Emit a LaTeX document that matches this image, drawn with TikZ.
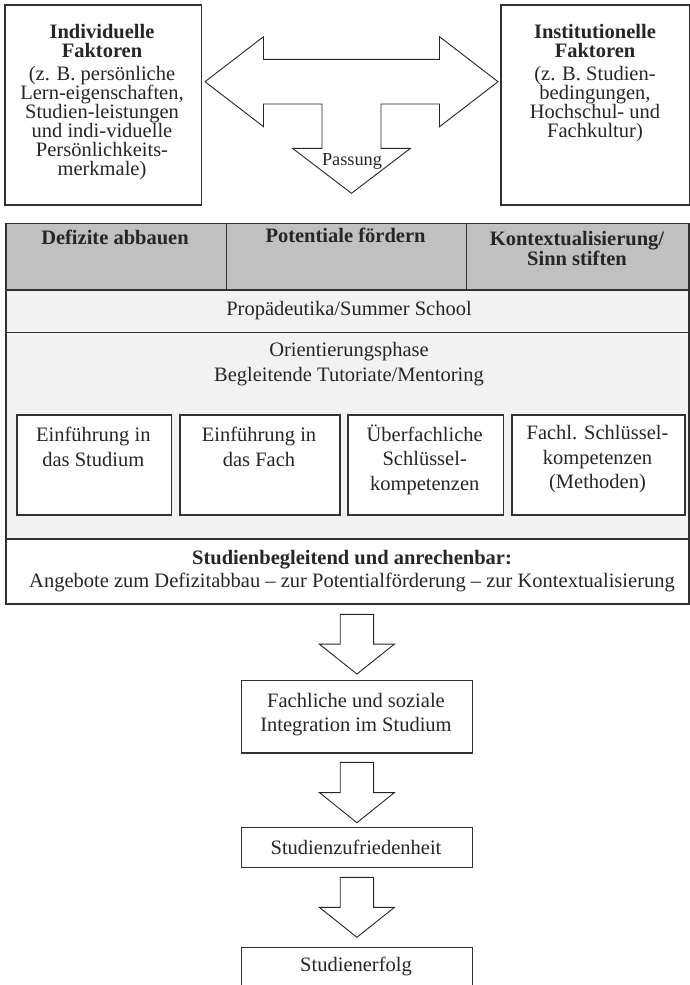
\documentclass[tikz,border=0pt]{standalone}
\usepackage{fontspec}
\setmainfont{Liberation Serif}
\usetikzlibrary{calc}
\definecolor{linec}{RGB}{50,50,50}
\definecolor{hdrfill}{RGB}{192,192,192}
\definecolor{rowfill}{RGB}{242,242,242}
\newcommand{\blkdown}[2]{%
  \draw[blockarrow] let \p1=(#1), \p2=(#2) in
    (\x1-16.7pt,\y1) -- (\x1+16.7pt,\y1) -- (\x1+16.7pt,{0.5*(\y1+\y2)})
    -- (\x1+37.5pt,{0.5*(\y1+\y2)}) -- (\x1,\y2) -- (\x1-37.5pt,{0.5*(\y1+\y2)})
    -- (\x1-16.7pt,{0.5*(\y1+\y2)}) -- cycle;}
\begin{document}
\begin{tikzpicture}[x=1pt,y=-1pt,
  font=\fontsize{20.5}{24.5}\selectfont,
  frame/.style={draw=linec, line width=1.6pt, inner sep=0pt, anchor=north west},
  flowbox/.style={draw=linec, line width=1.4pt, inner sep=0pt, anchor=north west, fill=white},
  txt/.style={inner sep=0pt, align=center, text=black!85},
  toptxt/.style={txt, font=\fontsize{20.5}{19}\selectfont},
  blockarrow/.style={draw=black!85, line width=0.9pt, fill=white, line join=miter}]
\useasboundingbox (0,0) rectangle (690,985);

% top factor boxes
\node[frame, minimum width=196.7pt, minimum height=200pt] (ind) at (4,4) {};
\node[frame, minimum width=189pt, minimum height=200pt] (inst) at (500,4) {};
\node[toptxt] (indt) at (102,102) {\textbf{Individuelle}\\[0.7pt]\textbf{Faktoren}\\[4pt](z. B. persönliche\\Lern-eigenschaften,\\Studien-leistungen\\und indi-viduelle\\Persönlichkeits-\\merkmale)};
\node[toptxt] (instt) at (595,83) {\textbf{Institutionelle}\\[0.7pt]\textbf{Faktoren}\\[4pt](z. B. Studien-\\bedingungen,\\Hochschul- und\\Fachkultur)};

% T-shaped double arrow (Passung)
\draw[blockarrow] (205,81.7) -- (263.5,36.7) -- (263.5,59.3) -- (439.5,59.3) -- (439.5,36.7)
  -- (498,81.7) -- (439.5,126.7) -- (439.5,104) -- (381,104) -- (381,148.3) -- (410.5,148.3)
  -- (351.5,193.3) -- (292.5,148.3) -- (322,148.3) -- (322,104) -- (263.5,104) -- (263.5,126.7) -- cycle;
\node[txt, font=\fontsize{18.3}{20}\selectfont] (pass) at (352,161.5) {Passung};

% header row
\node[frame, fill=hdrfill, minimum width=220.5pt, minimum height=66.6pt] (h1) at (5,222.7) {};
\node[frame, fill=hdrfill, minimum width=240pt, minimum height=66.6pt] (h2) at (225.5,222.7) {};
\node[frame, fill=hdrfill, minimum width=222.5pt, minimum height=66.6pt] (h3) at (465.5,222.7) {};
\node[txt, font=\fontsize{20.5}{20}\selectfont\bfseries] (h1t) at (115,237) {Defizite abbauen};
\node[txt, font=\fontsize{20.5}{20}\selectfont\bfseries] (h2t) at (345.5,235.5) {Potentiale fördern};
\node[txt, font=\fontsize{20.5}{20}\selectfont\bfseries] (h3t) at (577,248.3) {Kontextualisierung/\\Sinn stiften};

% Propaedeutika row
\node[frame, fill=rowfill, minimum width=683pt, minimum height=42.4pt] (prop) at (5,289.3) {};
\node[txt] (propt) at (349,311) {Propädeutika/Summer School};

% Orientierungsphase block
\node[frame, fill=rowfill, minimum width=683pt, minimum height=206.6pt] (orient) at (5,331.7) {};
\node[txt, font=\fontsize{20.5}{25}\selectfont] (orientt) at (349,364) {Orientierungsphase\\Begleitende Tutoriate/Mentoring};

\node[frame, fill=white, minimum width=154.5pt, minimum height=100.3pt] (b1) at (16,414) {};
\node[frame, fill=white, minimum width=160pt, minimum height=100.3pt] (b2) at (179,414) {};
\node[frame, fill=white, minimum width=155.5pt, minimum height=100.3pt] (b3) at (347,414) {};
\node[frame, fill=white, minimum width=173pt, minimum height=100.3pt] (b4) at (511,414) {};
\node[txt] (b1t) at (93.3,447) {Einführung in\\das Studium};
\node[txt] (b2t) at (259,447) {Einführung in\\das Fach};
\node[txt] (b3t) at (424.7,459.5) {Überfachliche\\Schlüssel-\\kompetenzen};
\node[txt] (b4t) at (597.5,459.5) {Fachl. Schlüssel-\\kompetenzen\\(Methoden)};

% Studienbegleitend box
\node[frame, fill=white, minimum width=683pt, minimum height=64.7pt] (wbox) at (5,538.3) {};
\node[txt, font=\fontsize{20.5}{23}\selectfont] (wboxt) at (352,571.5) {\textbf{Studienbegleitend und anrechenbar:}\\Angebote zum Defizitabbau – zur Potentialförderung – zur Kontextualisierung};

% flow
\node[flowbox, minimum width=231pt, minimum height=72.3pt] (fach) at (240.7,680) {};
\node[txt] (facht) at (356,714.5) {Fachliche und soziale\\Integration im Studium};
\node[flowbox, minimum width=231pt, minimum height=40pt] (zuf) at (240.7,826.7) {};
\node[txt] (zuft) at (356,847) {Studienzufriedenheit};
\node[flowbox, minimum width=231pt, minimum height=46pt] (erf) at (240.7,946.7) {};
\node[txt] (erft) at (356,966.7) {Studienerfolg};

\coordinate (a1s) at ($(fach.north |- wbox.south)+(0,9.7)$);
\coordinate (a1e) at ($(fach.north)+(0,-6)$);
\coordinate (a2s) at ($(fach.south)+(0,8.7)$);
\coordinate (a2e) at ($(zuf.north)+(0,-4)$);
\coordinate (a3s) at ($(zuf.south)+(0,9.3)$);
\coordinate (a3e) at ($(erf.north)+(0,-9.4)$);
\blkdown{a1s}{a1e}
\blkdown{a2s}{a2e}
\blkdown{a3s}{a3e}
\end{tikzpicture}
\end{document}
